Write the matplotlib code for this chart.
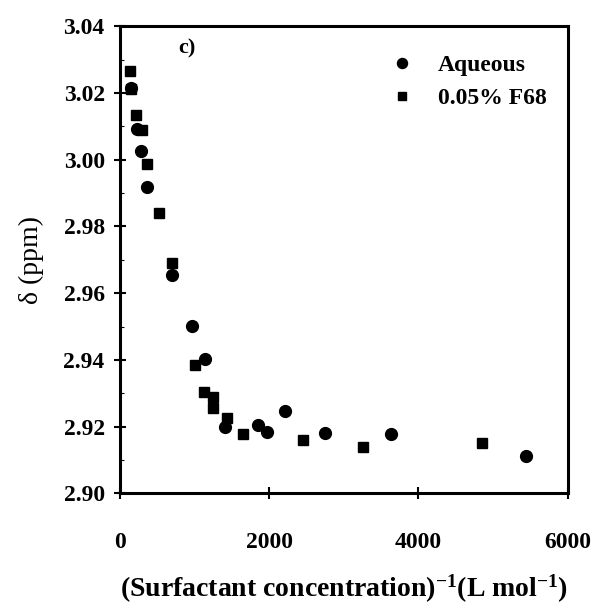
import matplotlib
matplotlib.use("Agg")
import matplotlib.pyplot as plt
from matplotlib.ticker import MultipleLocator

plt.rcParams['font.family'] = ['Liberation Serif', 'DejaVu Serif']
plt.rcParams['font.weight'] = 'bold'
plt.rcParams['mathtext.fontset'] = 'custom'
plt.rcParams['mathtext.rm'] = 'Liberation Serif:bold'
plt.rcParams['mathtext.bf'] = 'Liberation Serif:bold'
plt.rcParams['mathtext.default'] = 'bf'

# Aqueous (circles)
aq_x = [147, 223, 277, 366, 692, 960, 1138, 1406, 1852, 1972, 2209, 2745, 3638, 5436]
aq_y = [3.0216, 3.0093, 3.0026, 2.9919, 2.9654, 2.9501, 2.9402, 2.9200, 2.9205, 2.9185, 2.9247, 2.9180, 2.9177, 2.9112]

# 0.05% F68 (squares)
f68_x = [134, 150, 214, 290, 357, 527, 692, 1004, 1125, 1250, 1250, 1428, 1651, 2455, 3250, 4857]
f68_y = [3.0266, 3.0213, 3.0133, 3.0088, 2.9986, 2.9839, 2.9690, 2.9385, 2.9305, 2.9290, 2.9255, 2.9225, 2.9177, 2.9160, 2.9140, 2.9152]

fig = plt.figure(figsize=(5.97, 6.10), dpi=100)
ax = fig.add_axes([0.201, 0.191, 0.75, 0.766])

ax.plot(f68_x, f68_y, 's', color='black', markersize=7.5, label='0.05% F68', zorder=2)
ax.plot(aq_x, aq_y, 'o', color='black', markersize=8.5, label='Aqueous', zorder=3)

ax.set_xlim(0, 6000)
ax.set_ylim(2.90, 3.04)
ax.set_xticks([0, 2000, 4000, 6000])
ax.set_yticks([2.90, 2.92, 2.94, 2.96, 2.98, 3.00, 3.02, 3.04])
ax.set_yticklabels(['2.90', '2.92', '2.94', '2.96', '2.98', '3.00', '3.02', '3.04'])
ax.yaxis.set_minor_locator(MultipleLocator(0.01))

for s in ax.spines.values():
    s.set_linewidth(2.2)
ax.tick_params(axis='x', direction='inout', length=8, width=1.5, pad=24, labelsize=17)
ax.tick_params(axis='y', direction='inout', length=8, width=1.5, pad=7, labelsize=17)
ax.tick_params(axis='y', which='minor', direction='in', length=3, width=0.8)

fig.text(344 / 597, 1 - 589 / 610,
         r'(Surfactant concentration)$^{-1}$(L mol$^{-1}$)',
         fontsize=20, ha='center', va='center')
ax.set_ylabel('δ (ppm)', fontsize=20, labelpad=14)

ax.text(0.15, 0.953, 'c)', fontsize=16, fontweight='bold', transform=ax.transAxes,
        ha='center', va='center')

handles, labels = ax.get_legend_handles_labels()
ax.legend(handles[::-1], labels[::-1], loc='upper right', frameon=False, fontsize=17,
          bbox_to_anchor=(1.0, 0.985), handletextpad=0.5, labelspacing=0.5,
          markerscale=0.85)

fig.savefig('out.png', dpi=100)
